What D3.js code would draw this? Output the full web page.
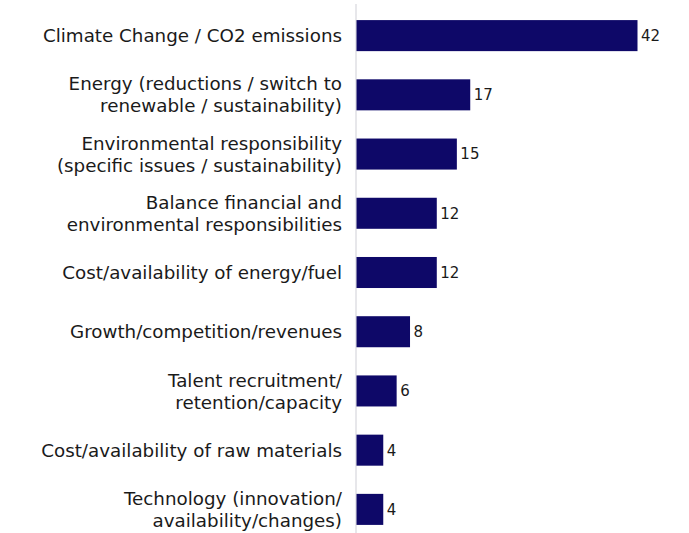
<!DOCTYPE html>
<html><head><meta charset="utf-8">
<script src="https://cdn.jsdelivr.net/npm/d3@7"></script>
<style>body{margin:0;background:#fff;}</style>
</head><body>
<svg id="c" width="689" height="533"></svg>
<script>
const categories = [
  ["Climate Change / CO2 emissions"],
  ["Energy (reductions / switch to", "renewable / sustainability)"],
  ["Environmental responsibility", "(specific issues / sustainability)"],
  ["Balance financial and", "environmental responsibilities"],
  ["Cost/availability of energy/fuel"],
  ["Growth/competition/revenues"],
  ["Talent recruitment/", "retention/capacity"],
  ["Cost/availability of raw materials"],
  ["Technology (innovation/", "availability/changes)"]
];
const values = [42, 17, 15, 12, 12, 8, 6, 4, 4];

const svg = d3.select("#c");
const x0 = 356;
const x = d3.scaleLinear().domain([0, 42]).range([x0, 637]);
const y = d3.scaleBand().domain(d3.range(categories.length)).range([6, 539])
  .paddingInner(0.476).paddingOuter(0.238);

svg.append("line").attr("x1", x0).attr("x2", x0).attr("y1", 4).attr("y2", 533)
  .attr("stroke", "#cfcfd6").attr("stroke-width", 1);

svg.selectAll("rect.bar").data(values).join("rect")
  .attr("class", "bar")
  .attr("x", x(0) + 0.5)
  .attr("y", (d, i) => y(i))
  .attr("width", d => x(d) - x(0))
  .attr("height", y.bandwidth())
  .attr("fill", "#0e0868");

svg.selectAll("text.val").data(values).join("text")
  .attr("class", "val")
  .attr("x", d => x(d) + 4)
  .attr("y", (d, i) => y(i) + y.bandwidth() / 2)
  .attr("dy", "0.36em")
  .attr("font-family", "DejaVu Sans, sans-serif")
  .attr("font-size", 15)
  .attr("fill", "#1a1a1a")
  .text(d => d);

const lab = svg.selectAll("text.lab").data(categories).join("text")
  .attr("class", "lab")
  .attr("text-anchor", "end")
  .attr("font-family", "DejaVu Sans, sans-serif")
  .attr("font-size", 18.3)
  .attr("fill", "#1a1a1a");
lab.each(function(lines, i) {
  const c = y(i) + y.bandwidth() / 2;
  const lh = 22;
  const t = d3.select(this);
  lines.forEach((s, k) => {
    t.append("tspan").attr("x", 342)
      .attr("y", c + (k - (lines.length - 1) / 2) * lh)
      .attr("dy", "0.36em").text(s);
  });
});
</script>
</body></html>
